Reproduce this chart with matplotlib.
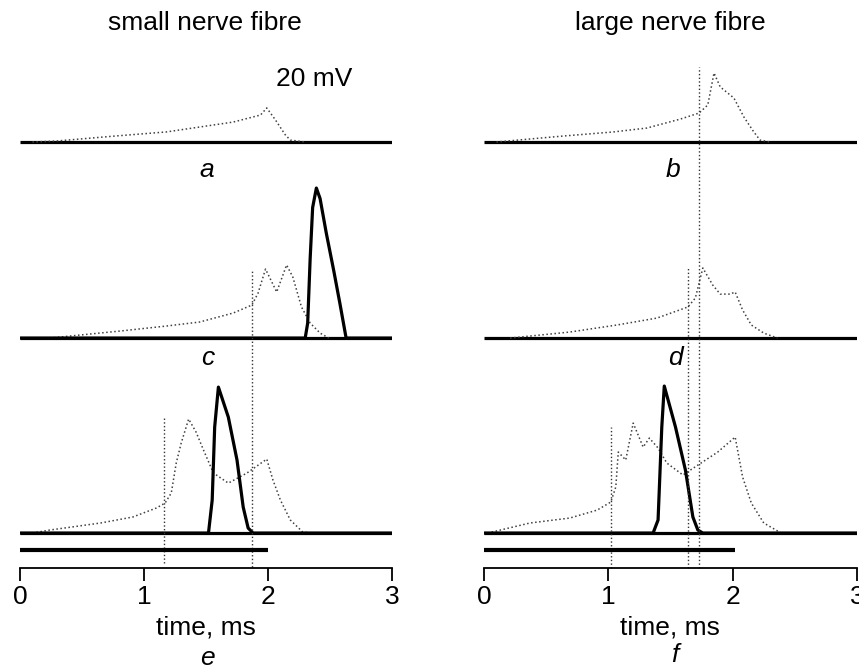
import matplotlib
matplotlib.use("Agg")
import matplotlib.pyplot as plt
import numpy as np

plt.rcParams["font.family"] = ["Liberation Sans", "DejaVu Sans"]

W, H = 859, 671

# --- data (time in ms, potential in mV above each trace baseline) ---
# small fibre
a_dot_t = [0.10, 0.30, 0.77, 1.18, 1.45, 1.72, 1.94, 1.99, 2.06, 2.14, 2.18, 2.30]
a_dot_v = [0.0, 0.7, 4.0, 6.7, 10.0, 13.3, 18.0, 22.7, 14.7, 4.7, 1.3, 0.0]

c_dot_t = [0.24, 0.81, 1.18, 1.45, 1.72, 1.87, 1.92, 1.98, 2.07, 2.15, 2.20, 2.27, 2.34, 2.42, 2.49]
c_dot_v = [0.0, 4.7, 8.0, 10.7, 16.7, 22.0, 30.0, 46.0, 30.7, 48.7, 40.7, 20.7, 10.0, 3.3, 0.0]
c_sol_t = [0.0, 2.30, 2.32, 2.34, 2.36, 2.39, 2.42, 2.47, 2.53, 2.58, 2.63, 3.0]
c_sol_v = [0.0, 0.0, 10.0, 53.0, 87.0, 100.0, 93.0, 70.0, 45.0, 23.0, 0.0, 0.0]

e_dot_t = [0.10, 0.24, 0.65, 0.91, 1.10, 1.17, 1.22, 1.26, 1.30, 1.36, 1.42, 1.48, 1.56, 1.68,
           1.83, 1.99, 2.04, 2.10, 2.18, 2.28, 2.35]
e_dot_v = [0.0, 2.0, 6.7, 10.7, 16.7, 20.0, 26.7, 46.7, 60.0, 76.0, 67.3, 55.3, 40.0, 33.3,
           40.0, 49.3, 35.3, 22.0, 8.7, 0.7, 0.0]
e_sol_t = [0.0, 1.52, 1.55, 1.57, 1.60, 1.68, 1.75, 1.80, 1.84, 1.88, 3.0]
e_sol_v = [0.0, 0.0, 22.0, 70.7, 97.3, 77.3, 48.7, 17.3, 3.3, 0.0, 0.0]

# large fibre
b_dot_t = [0.10, 0.64, 1.04, 1.31, 1.58, 1.73, 1.80, 1.85, 1.90, 2.01, 2.09, 2.17, 2.22, 2.30]
b_dot_v = [0.0, 4.0, 6.7, 9.3, 15.3, 19.3, 24.7, 46.0, 36.7, 29.3, 16.7, 6.7, 1.3, 0.0]

d_dot_t = [0.21, 0.69, 1.07, 1.39, 1.64, 1.70, 1.73, 1.76, 1.84, 1.90, 1.98, 2.02, 2.08, 2.15,
           2.25, 2.36]
d_dot_v = [0.0, 4.0, 8.7, 13.3, 20.7, 26.7, 36.7, 46.7, 35.3, 29.3, 29.3, 30.7, 18.7, 8.7,
           3.3, 0.0]

f_dot_t = [0.03, 0.37, 0.69, 0.91, 1.02, 1.06, 1.08, 1.14, 1.20, 1.28, 1.33, 1.40, 1.47, 1.60,
           1.72, 1.88, 2.02, 2.08, 2.15, 2.25, 2.39]
f_dot_v = [0.0, 6.7, 10.0, 15.3, 20.7, 30.7, 54.0, 48.7, 73.3, 57.3, 63.3, 56.7, 46.7, 38.7,
           45.3, 54.0, 64.0, 37.3, 20.0, 6.7, 0.0]
f_sol_t = [0.0, 1.36, 1.40, 1.43, 1.45, 1.54, 1.62, 1.68, 1.72, 1.76, 3.0]
f_sol_v = [0.0, 0.0, 8.7, 70.7, 98.0, 70.7, 42.0, 10.7, 2.0, 0.0, 0.0]

# stimulus duration bars (ms)
stim_left = 2.0
stim_right = 2.02

# vertical marker lines: (time, top, bottom) in mV of the shared column axis
vl_left = [(1.87, 176.0, -22.7), (1.16, 76.7, -20.0)]
vl_right = [(1.73, 310.7, -23.3), (1.64, 177.0, -23.3), (1.02, 70.7, -23.3)]

# baselines of the three rows (mV offset in column axis)
offsets = [260.7, 130.0, 0.0]
stim_y = -11.3
labels_left = ["a", "c", "e"]
labels_right = ["b", "d", "f"]


def fx(px):
    return px / W


def fy(py):
    return 1 - py / H


fig = plt.figure(figsize=(W / 100, H / 100), dpi=100)
ax_l = fig.add_axes([fx(20), fy(568), 372 / W, (568 - 40) / H])
ax_r = fig.add_axes([fx(484), fy(568), 373 / W, (568 - 40) / H])

dot_kw = dict(ls=":", lw=1.1, color="0.25")
sol_kw = dict(ls="-", lw=2.3, color="black", solid_capstyle="butt")

left_traces = [(a_dot_t, a_dot_v, None, None),
               (c_dot_t, c_dot_v, c_sol_t, c_sol_v),
               (e_dot_t, e_dot_v, e_sol_t, e_sol_v)]
right_traces = [(b_dot_t, b_dot_v, None, None),
                (d_dot_t, d_dot_v, None, None),
                (f_dot_t, f_dot_v, f_sol_t, f_sol_v)]

for ax, traces, vls, stim in [(ax_l, left_traces, vl_left, stim_left),
                              (ax_r, right_traces, vl_right, stim_right)]:
    for (dt, dv, st, sv), off in zip(traces, offsets):
        ax.plot([0, 3], [off, off], **sol_kw)
        ax.plot(dt, np.array(dv) + off, **dot_kw)
        if st is not None:
            ax.plot(st, np.array(sv) + off, **sol_kw)
    for t, top, bot in vls:
        ax.plot([t, t], [bot, top], ls=":", lw=1.0, color="0.2", clip_on=False)
    ax.plot([0, stim], [stim_y, stim_y], color="black", lw=3.0, solid_capstyle="butt")

    ax.set_xlim(0, 3)
    ax.set_ylim(-23.3, 328.7)
    for s in ["left", "right", "top"]:
        ax.spines[s].set_visible(False)
    ax.spines["bottom"].set_linewidth(1.3)
    ax.set_yticks([])
    ax.set_xticks([0, 1, 2, 3])
    ax.tick_params(axis="x", direction="out", length=9, width=1.3, labelsize=19, pad=3)
    ax.patch.set_alpha(0)

# text
fig.text(fx(205), fy(23), "small nerve fibre", ha="center", va="center", fontsize=19)
fig.text(fx(670), fy(23), "large nerve fibre", ha="center", va="center", fontsize=19)
fig.text(fx(314), fy(79), "20 mV", ha="center", va="center", fontsize=19)

for lab, x, y in zip(labels_left, [207, 208, 207], [170, 358, 658]):
    fig.text(fx(x), fy(y), lab, ha="center", va="center", fontsize=19, style="italic")
for lab, x, y in zip(labels_right, [673, 675, 675], [170, 358, 655]):
    fig.text(fx(x), fy(y), lab, ha="center", va="center", fontsize=19, style="italic")

fig.text(fx(206), fy(627), "time, ms", ha="center", va="center", fontsize=19)
fig.text(fx(670), fy(627), "time, ms", ha="center", va="center", fontsize=19)

fig.savefig("out.png", dpi=100)
